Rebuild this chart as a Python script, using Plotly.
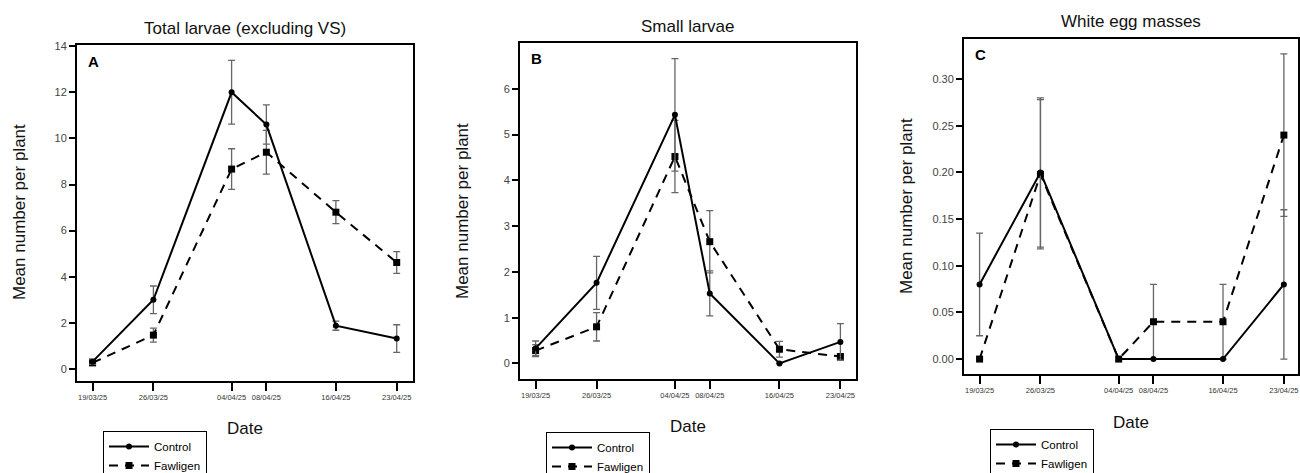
import plotly.graph_objects as go

W, H = 1300, 473

dates = ["2025-03-19", "2025-03-26", "2025-04-04", "2025-04-08", "2025-04-16", "2025-04-23"]
date_labels = ["19/03/25", "26/03/25", "04/04/25", "08/04/25", "16/04/25", "23/04/25"]

# Panel A: Total larvae (excluding VS)
a_control = [0.32, 3.0, 12.0, 10.6, 1.88, 1.32]
a_control_err = [0.12, 0.6, 1.38, 0.85, 0.2, 0.6]
a_fawligen = [0.27, 1.47, 8.67, 9.4, 6.8, 4.62]
a_fawligen_err = [0.12, 0.3, 0.88, 0.95, 0.5, 0.47]

# Panel B: Small larvae
b_control = [0.33, 1.76, 5.43, 1.53, 0.0, 0.47]
b_control_err = [0.16, 0.58, 1.23, 0.49, 0.0, 0.4]
b_fawligen = [0.28, 0.8, 4.52, 2.66, 0.31, 0.15]
b_fawligen_err = [0.13, 0.31, 0.79, 0.68, 0.17, 0.06]

# Panel C: White egg masses
c_control = [0.08, 0.20, 0.0, 0.0, 0.0, 0.08]
c_control_err = [0.055, 0.08, 0.0, 0.0, 0.0, 0.08]
c_fawligen = [0.0, 0.198, 0.0, 0.04, 0.04, 0.24]
c_fawligen_err = [0.0, 0.08, 0.0, 0.04, 0.04, 0.087]

titles = ["Total larvae (excluding VS)", "Small larvae", "White egg masses"]
letters = ["A", "B", "C"]
series_names = ["Control", "Fawligen"]

FONT = "Liberation Sans, Arial, sans-serif"


def px(x):
    return x / W


def py(y):
    return 1 - y / H


# screen-pixel boxes of each panel (left, right, top, bottom)
boxes = [(77, 413, 45, 381), (520, 856, 43, 379), (964, 1298, 39, 374)]
yranges = [[-0.52, 14.05], [-0.34, 7.0], [-0.016, 0.343]]
xranges = [["2025-03-17 05:00", "2025-04-24 21:00"],
           ["2025-03-17 05:00", "2025-04-24 19:00"],
           ["2025-03-17 05:00", "2025-04-24 15:00"]]
ytickvals = [[0, 2, 4, 6, 8, 10, 12, 14], [0, 1, 2, 3, 4, 5, 6],
             [0, 0.05, 0.10, 0.15, 0.20, 0.25, 0.30]]
ytickfmt = ["d", "d", ".2f"]

panels = [
    (a_control, a_control_err, a_fawligen, a_fawligen_err),
    (b_control, b_control_err, b_fawligen, b_fawligen_err),
    (c_control, c_control_err, c_fawligen, c_fawligen_err),
]

fig = go.Figure()
legend_keys = ["legend", "legend2", "legend3"]

for i, (cv, ce, fv, fe) in enumerate(panels):
    xa = "x" if i == 0 else f"x{i+1}"
    ya = "y" if i == 0 else f"y{i+1}"
    fig.add_trace(go.Scatter(
        x=dates, y=fv, name=series_names[1], xaxis=xa, yaxis=ya,
        mode="lines+markers", legend=legend_keys[i], legendrank=2,
        line=dict(color="black", width=2, dash="9px,7px"),
        marker=dict(symbol="square", size=7, color="black"),
        error_y=dict(type="data", array=fe, visible=True, color="#666666",
                     thickness=1.3, width=3.5),
    ))
    fig.add_trace(go.Scatter(
        x=dates, y=cv, name=series_names[0], xaxis=xa, yaxis=ya,
        mode="lines+markers", legend=legend_keys[i], legendrank=1,
        line=dict(color="black", width=2),
        marker=dict(symbol="circle", size=6, color="black"),
        error_y=dict(type="data", array=ce, visible=True, color="#666666",
                     thickness=1.3, width=3.5),
    ))

layout = dict(
    width=W, height=H,
    margin=dict(l=0, r=0, t=0, b=0, autoexpand=False),
    paper_bgcolor="white", plot_bgcolor="white",
    font=dict(family=FONT, color="black"),
    annotations=[],
)

legend_pos = [(103, 431), (546, 432), (990, 429)]

for i in range(3):
    l, r, t, b = boxes[i]
    xkey = "xaxis" if i == 0 else f"xaxis{i+1}"
    ykey = "yaxis" if i == 0 else f"yaxis{i+1}"
    xa = "x" if i == 0 else f"x{i+1}"
    ya = "y" if i == 0 else f"y{i+1}"
    layout[xkey] = dict(
        domain=[px(l), min(px(r), 1.0)], anchor=ya, type="date", range=xranges[i],
        tickmode="array", tickvals=dates, ticktext=date_labels,
        ticks="outside", ticklen=8, tickwidth=1.5, tickcolor="black",
        showline=True, linecolor="black", linewidth=2, mirror=True,
        showgrid=False, zeroline=False,
        tickfont=dict(size=7.5, color="#333333", family=FONT),
    )
    layout[ykey] = dict(
        domain=[py(b), py(t)], anchor=xa, range=yranges[i],
        tickmode="array", tickvals=ytickvals[i], tickformat=ytickfmt[i],
        ticks="outside", ticklen=6, tickwidth=1.5, tickcolor="black",
        showline=True, linecolor="black", linewidth=2, mirror=True,
        showgrid=False, zeroline=False,
        tickfont=dict(size=11, color="#444444", family=FONT),
    )
    cx = (l + r) / 2
    layout["annotations"] += [
        dict(text=titles[i], x=px(cx), y=py([28, 27, 22][i]), xref="paper", yref="paper",
             xanchor="center", yanchor="middle", showarrow=False,
             font=dict(size=17, family=FONT, color="#111111")),
        dict(text="Date", x=px(cx), y=py([428, 426, 422][i]), xref="paper", yref="paper",
             xanchor="center", yanchor="middle", showarrow=False,
             font=dict(size=17, family=FONT, color="#111111")),
        dict(text="Mean number per plant", x=px([20, 463, 906][i]), y=py([212, 211, 206][i]),
             xref="paper", yref="paper", xanchor="center", yanchor="middle",
             textangle=-90, showarrow=False,
             font=dict(size=17, family=FONT, color="#111111")),
        dict(text="<b>" + letters[i] + "</b>", x=px(l + 9), y=py(t + 16),
             xref="paper", yref="paper", xanchor="left", yanchor="middle",
             showarrow=False, font=dict(size=15, family=FONT, color="black")),
    ]
    lx, ly = legend_pos[i]
    layout[legend_keys[i]] = dict(
        x=px(lx), y=py(ly), xanchor="left", yanchor="top",
        xref="paper", yref="paper",
        bordercolor="black", borderwidth=1, bgcolor="white",
        font=dict(size=11.5, family=FONT, color="black"),
        tracegroupgap=0, itemwidth=40,
    )

layout["showlegend"] = True
fig.update_layout(**layout)
fig.write_html(
    "out.html",
    config={"displayModeBar": False},
    post_script="document.body.style.margin='0';document.body.style.overflow='hidden';",
)
